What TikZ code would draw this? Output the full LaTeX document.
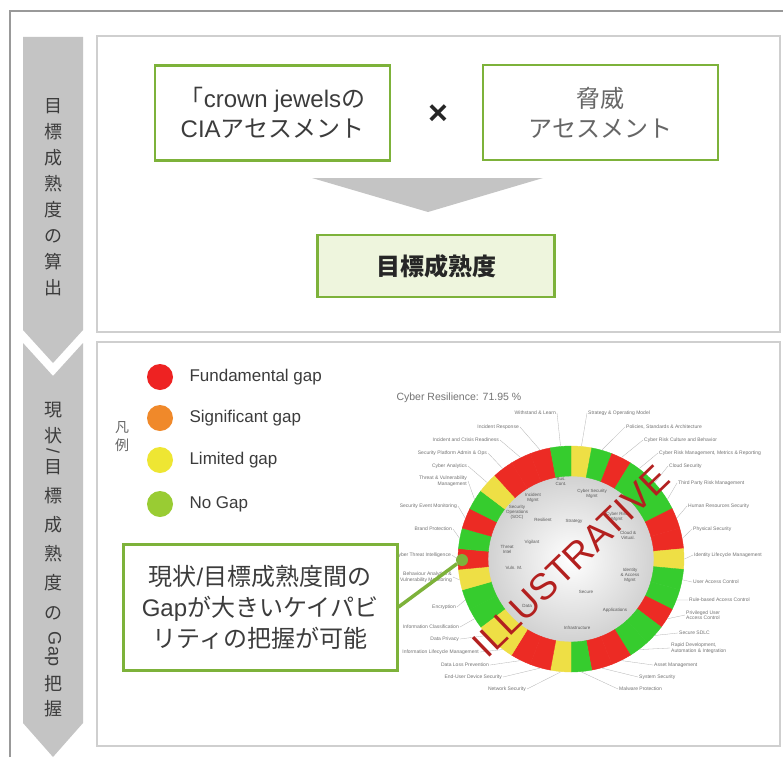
\documentclass[tikz,border=0pt]{standalone}
\usepackage{fontspec}
\setmainfont{Liberation Sans}
\newfontfamily\jp{Noto Sans CJK JP}
\usepackage{tikz}
\usetikzlibrary{arrows.meta,positioning}
\usepackage{xcolor}

\definecolor{boxgreen}{HTML}{7DB23A}
\definecolor{fillgreen}{HTML}{EEF5DD}
\definecolor{chevgray}{HTML}{C4C4C4}
\definecolor{panelgray}{HTML}{CFCFCF}
\definecolor{txtgray}{HTML}{3C3C3C}
\definecolor{ringR}{HTML}{EC2B24}
\definecolor{ringG}{HTML}{36CC2E}
\definecolor{ringY}{HTML}{EEDF45}
\definecolor{legR}{HTML}{EE2222}
\definecolor{legO}{HTML}{F0892A}
\definecolor{legY}{HTML}{EEE633}
\definecolor{legG}{HTML}{99CC33}
\definecolor{wmred}{HTML}{B3201F}

\begin{document}
\begin{tikzpicture}[x=1pt,y=-1pt]
    \tikzstyle{gbox} = [draw=boxgreen, line width=2.5pt, fill=white, align=center, text=txtgray, minimum width=235pt, minimum height=95pt, font=\jp\fontsize{24}{30}\selectfont];
    \tikzstyle{vtext} = [text=txtgray, inner sep=0pt, font=\jp\fontsize{18}{18}\selectfont];
    \tikzstyle{chev} = [fill=chevgray];
    \tikzstyle{panel} = [draw=panelgray, line width=1.2pt];
    \tikzstyle{legdot} = [circle, minimum size=26pt, inner sep=0pt];
    \tikzstyle{legtext} = [anchor=west, text=txtgray, font=\fontsize{17}{17}\selectfont];
    \tikzstyle{tinyr} = [anchor=west, align=left, text=black!55, inner sep=1pt, font=\fontsize{5}{5.5}\selectfont];
    \tikzstyle{tinyl} = [anchor=east, align=right, text=black!55, inner sep=1pt, font=\fontsize{5}{5.5}\selectfont];
    \tikzstyle{tinyc} = [align=center, text=black!65, inner sep=0pt, font=\fontsize{4.5}{5}\selectfont];
    \tikzstyle{leader} = [draw=black!30, line width=0.3pt];
    \tikzstyle{callbox} = [draw=boxgreen, line width=3pt, fill=white, align=center, text=txtgray, minimum width=274pt, minimum height=126pt, font=\jp\fontsize{24}{31}\selectfont];

    \useasboundingbox (0,0) rectangle (783,757);
    \fill[white] (0,0) rectangle (783,757);
    \draw[black!40, line width=1.2pt] (10,757) -- (10,11) -- (783,11);

    \draw[panel] (97,36) rectangle (780,332);
    \draw[panel] (97,342) rectangle (780,746);

    \fill[chev] (23,37) -- (83,37) -- (83,330) -- (53,363) -- (23,330) -- cycle;
    \fill[chev] (23,343) -- (53,376) -- (83,343) -- (83,723) -- (53,757) -- (23,723) -- cycle;

    \foreach \c [count=\i] in {目,標,成,熟,度,の,算,出}
        \node[vtext] (ta\i) at (53,{106+(\i-1)*26}) {\c};
    \foreach \c/\y in {現/410,状/436,目/467,標/496,成/525,熟/554,度/583,の/613,把/684,握/709}
        \node[vtext] at (53,\y) {\c};
    \node[vtext, rotate=-90] (slash) at (53,451) {\rmfamily /};
    \node[vtext, rotate=-90] (gapv) at (53,649) {\rmfamily Gap};

    \node[gbox] (cia) at (272.5,113) {{\jp 「}{\rmfamily crown jewels}の\\{\rmfamily CIA}アセスメント};
    \node[gbox, text=black!60] (threat) at (600.5,112.5) {脅威\\アセスメント};
    \node[font=\fontsize{34}{34}\selectfont\bfseries, text=black!85] (times) at (438,115) {×};
    \fill[chevgray] (312,178) -- (543,178) -- (428,212) -- cycle;
    \node[gbox, fill=fillgreen, minimum width=237pt, minimum height=62pt, text=black!85, font=\jp\fontsize{24}{30}\selectfont\bfseries] (target) at (436,266) {目標成熟度};

    \foreach \col/\y/\t in {legR/377/Fundamental gap, legO/418/Significant gap, legY/460/Limited gap, legG/504/No Gap} {
        \node[legdot, fill=\col] (dot\y) at (160,\y) {};
        \node[legtext] at (186,\y) {\t};
    }
    \node[vtext, font=\jp\fontsize{14}{14}\selectfont, text=black!60] (leg1) at (122,428) {凡};
    \node[vtext, font=\jp\fontsize{14}{14}\selectfont, text=black!60] (leg2) at (122,445) {例};

    \node[anchor=west, text=black!55, font=\fontsize{10.5}{10.5}\selectfont] (score) at (393,398) {Cyber Resilience: 71.95 \%};

    \begin{scope}[shift={(571,559)}, yscale=-1]
        \shade[inner color=white, outer color=black!18] (0,0) circle (84);
        \foreach \c [count=\i, evaluate=\i as \a using 90-(\i-1)*360/34, evaluate=\i as \b using 90-\i*360/34] in {Y,G,R,G,G,G,R,R,Y,G,G,R,G,G,R,R,G,Y,R,R,Y,Y,G,G,Y,R,G,R,G,Y,R,R,R,G} {
            \filldraw[fill=ring\c, draw=ring\c, line width=0.4pt] (\a:83) arc[start angle=\a, end angle=\b, radius=83] -- (\b:113) arc[start angle=\b, end angle=\a, radius=113] -- cycle;
            \coordinate (p\i) at ({(\a+\b)/2}:113.5);
        }
    \end{scope}

    \foreach \x/\y/\t [count=\i] in {587/413/Strategy \& Operating Model, 625/427/{Policies, Standards \& Architecture}, 643/440/Cyber Risk Culture and Behavior, 658/453/{Cyber Risk Management, Metrics \& Reporting}, 668/466/Cloud Security, 677/483/Third Party Risk Management, 687/506/Human Resources Security, 692/529/Physical Security, 693/555/Identity Lifecycle Management, 692/582/User Access Control, 688/600/Rule-based Access Control, 685/615/{Privileged User\\Access Control}, 678/633/Secure SDLC, 670/648/{Rapid Development,\\Automation \& Integration}, 653/665/Asset Management, 638/677/System Security, 618/689/Malware Protection} {
        \node[tinyr] (rl\i) at (\x,\y) {\t};
        \draw[leader] (rl\i.west) -- (p\i);
    }
    \foreach \x/\y/\t [count=\i from 18] in {527/689/Network Security, 503/677/End-User Device Security, 490/665/Data Loss Prevention, 480/652/Information Lifecycle Management, 460/639/Data Privacy, 460/627/Information Classification, 457/607/Encryption, 453/577/{Behaviour Analytics \&\\Vulnerability Monitoring}, 452/555/Cyber Threat Intelligence, 453/529/Brand Protection, 458/506/Security Event Monitoring, 468/481/{Threat \& Vulnerability\\Management}, 468/466/Cyber Analytics, 488/453/Security Platform Admin \& Ops, 500/440/Incident and Crisis Readiness, 520/427/Incident Response, 557/413/Withstand \& Learn} {
        \node[tinyl] (ll\i) at (\x,\y) {\t};
        \draw[leader] (ll\i.east) -- (p\i);
    }

    \foreach \x/\y/\t in {533/498/{Incident\\Mgmt}, 561/481/{Bus.\\Cont.}, 592/494/{Cyber Security\\Mgmt}, 517/512/{Security\\Operations\\(SOC)}, 543/520/Resilient, 574/521/Strategy, 617/517/{Cyber Risk\\Mgmt}, 507/549/{Threat\\Intel}, 532/542/Vigilant, 628/535/{Cloud \&\\Virtual.}, 514/568/Vuln. M., 630/575/{Identity\\\& Access\\Mgmt}, 586/592/Secure, 615/610/Applications, 577/628/Infrastructure, 527/606/Data}
        \node[tinyc] at (\x,\y) {\t};

    \node[rotate=44, text=wmred, font=\fontsize{37}{37}\selectfont] (wm) at (571,561) {ILLUSTRATIVE};

    \node[callbox] (gapnote) at (260,607) {現状{\rmfamily /}目標成熟度間の\\{\rmfamily Gap}が大きいケイパビ\\リティの把握が可能};
    \node[circle, fill=boxgreen, minimum size=12pt, inner sep=0pt] (gapdot) at (462,560) {};
    \draw[boxgreen, line width=3.5pt] (gapnote.east) -- (gapdot);
\end{tikzpicture}
\end{document}
